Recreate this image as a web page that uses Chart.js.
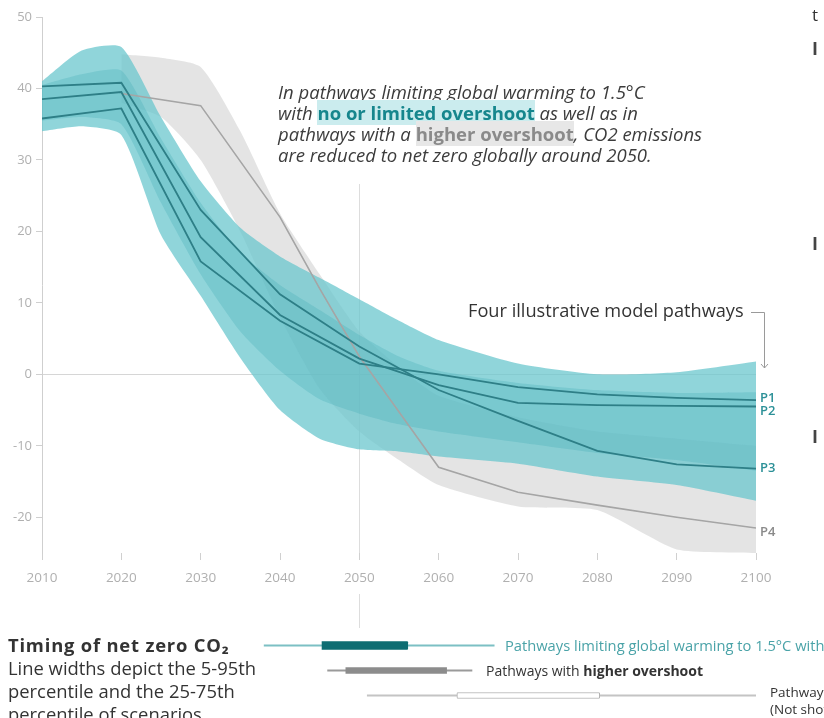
<!DOCTYPE html>
<html>
<head>
<meta charset="utf-8">
<script src="https://cdn.jsdelivr.net/npm/chart.js@4.4.0/dist/chart.umd.min.js"></script>
<style>
  html, body { margin: 0; padding: 0; background: #fff; }
  body { width: 824px; height: 718px; position: relative; overflow: hidden; font-family: 'Open Sans', sans-serif; color: #333; }
  canvas { position: absolute; left: 0; }
  #main { top: 0; }
  #timing { top: 633px; }
  .txt { position: absolute; white-space: nowrap; }
  #note { left: 278px; top: 81px; font-style: italic; font-size: 18.5px; line-height: 21px; color: #3c3c3c; }
  .hl-teal { font-style: normal; font-weight: 700; color: #16868d; background: #cbecee; }
  .hl-gray { font-style: normal; font-weight: 700; color: #8a8a8a; background: #e7e7e7; }
  #four { left: 468px; top: 299px; font-size: 18.2px; line-height: 22px; color: #333; }
  #timingNote { left: 8px; top: 633px; font-size: 18.4px; line-height: 23px; color: #333; }
  #timingNote b { letter-spacing: 0.8px; }
</style>
</head>
<body>
<canvas id="main" width="824" height="632"></canvas>
<canvas id="timing" width="824" height="75"></canvas>

<div class="txt" id="note">
  In pathways limiting global warming to 1.5°C<br>
  with <span class="hl-teal">no or limited overshoot</span> as well as in<br>
  pathways with a <span class="hl-gray">higher overshoot</span>, CO2 emissions<br>
  are reduced to net zero globally around 2050.
</div>
<div class="txt" id="four">Four illustrative model pathways</div>
<div class="txt" id="timingNote">
  <b>Timing of net zero CO₂</b><br>
  Line widths depict the 5-95th<br>
  percentile and the 25-75th<br>
  percentile of scenarios
</div>
<div class="txt" style="left:505px; top:635px; font-size:14.7px; line-height:20px; color:#4aa3a8;">Pathways limiting global warming to 1.5°C with no or limited overshoot</div>
<div class="txt" style="left:486px; top:661px; font-size:14px; line-height:20px;">Pathways with <b>higher overshoot</b></div>
<div class="txt" style="left:770px; top:684px; font-size:13.5px; line-height:17px;">Pathways limiting global warming below 2°C<br>(Not shown above)</div>
<div class="txt" style="left:812px; top:3px; font-size:17px;">t</div>
<div class="txt" style="left:812px; top:36px; font-size:18px; font-weight:700; color:#444;">I</div>
<div class="txt" style="left:812px; top:231px; font-size:18px; font-weight:700; color:#444;">I</div>
<div class="txt" style="left:812px; top:424px; font-size:18px; font-weight:700; color:#444;">I</div>

<script>
// global net CO2 emissions, GtCO2/yr
const pathYears = [2010, 2020, 2030, 2040, 2050, 2060, 2070, 2080, 2090, 2100];
const p1 = [35.8, 37.2, 15.8, 7.5, 1.5, 0, -1.8, -2.8, -3.3, -3.6];
const p2 = [38.5, 39.5, 19.2, 8.3, 2.2, -1.5, -4.0, -4.3, -4.4, -4.5];
const p3 = [40.3, 40.8, 23.0, 11.2, 3.9, -2.2, -6.5, -10.7, -12.6, -13.2];

const p4Years = [2020, 2030, 2040, 2045, 2050, 2060, 2070, 2080, 2090, 2100];
const p4 = [39.3, 37.6, 22.0, 12.0, 2.5, -13.0, -16.5, -18.3, -20.0, -21.5];

// range of scenarios, no or limited overshoot
const bandYears = [2010, 2015, 2020, 2025, 2030, 2035, 2040, 2045, 2050, 2055, 2060, 2070, 2080, 2090, 2100];
const tealHigh = [41, 45.3, 45.8, 36, 27, 20.5, 16.5, 13.5, 10.5, 7.5, 4.8, 1.5, 0, 0.3, 1.8];
const tealLow = [34, 34.7, 33.5, 19.5, 11, 2.3, -5, -9, -10.5, -10.8, -11.5, -12.5, -14.3, -15.5, -17.7];
const coreHigh = [40.5, 42, 42.5, 33, 24, 17, 12.5, 9, 5.5, 2.5, 0.5, -1.2, -2.2, -2.6, -2.5];
const coreLow = [35.5, 36, 35, 24, 14, 6, 0.5, -3.5, -5.5, -7, -8, -9.5, -11, -12, -13.5];

// range of scenarios, higher overshoot
const greyYears = [2020, 2025, 2030, 2035, 2040, 2045, 2050, 2055, 2060, 2070, 2080, 2090, 2100];
const greyHigh = [44.8, 44.3, 43, 34, 22.5, 14, 6, 1, -3, -6, -8, -9, -10];
const greyLow = [38, 36, 30, 20, 8, -2, -8, -12, -15.5, -18.5, -19, -24.5, -25];

const xTicks = [2010, 2020, 2030, 2040, 2050, 2060, 2070, 2080, 2090, 2100];
const yTicks = [-20, -10, 0, 10, 20, 30, 40, 50];
const pathwayLabels = ['P1', 'P2', 'P3', 'P4'];
const netZeroYear = 2050;

// timing of net zero: 5-95th and 25-75th percentile
const timingRows = ['limited overshoot', 'higher overshoot', 'below 2°C'];
const timingOuter = [[2038, 2067], [2046, 2064.2], [2051, 2100]];
const timingInner = [[2045.3, 2056.1], [2048.3, 2061], [2062.3, 2080.3]];

Chart.defaults.font.family = "'Open Sans', sans-serif";

const TEAL_LINE = '#2e7f87';
const toPoints = (xs, ys) => xs.map((x, i) => ({ x: x, y: ys[i] }));

function pathLine(label, xs, ys, color, width, order) {
  return {
    label: label, data: toPoints(xs, ys), borderColor: color, borderWidth: width,
    pointRadius: 0, tension: 0, fill: false, order: order
  };
}
function bandEdge(label, xs, ys, fillColor, order) {
  return {
    label: label, data: toPoints(xs, ys), borderWidth: 0, borderColor: 'rgba(0,0,0,0)',
    pointRadius: 0, tension: 0.2, order: order,
    fill: fillColor ? { target: '+1' } : false,
    backgroundColor: fillColor || 'rgba(0,0,0,0)'
  };
}

const decor = {
  id: 'decor',
  beforeDatasetsDraw(chart) {
    const ctx = chart.ctx, x = Math.round(chart.scales.x.getPixelForValue(netZeroYear)) + 0.5;
    ctx.save();
    ctx.strokeStyle = '#dddddd';
    ctx.lineWidth = 1;
    ctx.beginPath();
    ctx.moveTo(x, 184);
    ctx.lineTo(x, chart.chartArea.bottom);
    ctx.moveTo(x, 594);
    ctx.lineTo(x, 628);
    ctx.stroke();
    ctx.restore();
  },
  afterDatasetsDraw(chart) {
    const ctx = chart.ctx;
    const xs = chart.scales.x, ys = chart.scales.y;
    const ends = [p1, p2, p3, p4].map(a => a[a.length - 1]);
    const nudge = [-2, 5, 0, 4];
    ctx.save();
    ctx.font = "600 13px 'Open Sans', sans-serif";
    ctx.textBaseline = 'middle';
    pathwayLabels.forEach((lab, i) => {
      ctx.fillStyle = i < 3 ? '#2b9097' : '#8a8a8a';
      ctx.fillText(lab, xs.right + 4, ys.getPixelForValue(ends[i]) + nudge[i]);
    });
    // connector from "Four illustrative model pathways"
    ctx.strokeStyle = '#9a9a9a';
    ctx.lineWidth = 1;
    ctx.beginPath();
    ctx.moveTo(751, 312.5);
    ctx.lineTo(764.5, 312.5);
    ctx.lineTo(764.5, 368);
    ctx.moveTo(761, 364);
    ctx.lineTo(764.5, 368);
    ctx.lineTo(768, 364);
    ctx.stroke();
    ctx.restore();
  }
};

new Chart(document.getElementById('main'), {
  type: 'line',
  data: {
    datasets: [
      pathLine('P1', pathYears, p1, TEAL_LINE, 1.8, 0),
      pathLine('P2', pathYears, p2, TEAL_LINE, 1.8, 0),
      pathLine('P3', pathYears, p3, TEAL_LINE, 1.8, 0),
      pathLine('P4', p4Years, p4, '#a5a5a5', 1.6, 1),
      bandEdge('core high', bandYears, coreHigh, 'rgba(60, 170, 180, 0.28)', 2),
      bandEdge('core low', bandYears, coreLow, null, 2),
      bandEdge('teal high', bandYears, tealHigh, 'rgba(105, 198, 205, 0.74)', 3),
      bandEdge('teal low', bandYears, tealLow, null, 3),
      bandEdge('grey high', greyYears, greyHigh, 'rgba(205, 205, 205, 0.55)', 4),
      bandEdge('grey low', greyYears, greyLow, null, 4)
    ]
  },
  options: {
    responsive: false,
    animation: false,
    devicePixelRatio: 1,
    layout: { padding: { top: 17, left: 0, right: 68, bottom: 39 } },
    plugins: { legend: { display: false }, tooltip: { enabled: false } },
    scales: {
      x: {
        type: 'linear', min: 2010, max: 2100,
        afterBuildTicks: s => { s.ticks = xTicks.map(v => ({ value: v })); },
        afterFit: s => { s.height = 40; },
        grid: { drawOnChartArea: false, tickColor: '#d0d0d0', tickLength: 7 },
        border: { display: false },
        ticks: { color: '#b0b0b0', font: { size: 13.5 }, padding: 10, maxRotation: 0, autoSkip: false, callback: v => String(v) }
      },
      y: {
        min: -25, max: 50,
        afterBuildTicks: s => { s.ticks = yTicks.map(v => ({ value: v })); },
        afterFit: s => { s.width = 42; },
        grid: {
          color: c => (c.tick && c.tick.value === 0) ? '#d6d6d6' : 'rgba(0,0,0,0)',
          tickColor: '#cfcfcf', tickLength: 6
        },
        border: { display: true, color: '#cfcfcf' },
        ticks: { color: '#b0b0b0', font: { size: 13 }, padding: 4 }
      }
    }
  },
  plugins: [decor]
});

// timing bars below the chart, same year scale
new Chart(document.getElementById('timing'), {
  type: 'bar',
  data: {
    labels: timingRows,
    datasets: [
      {
        data: [timingInner[0], null, null], backgroundColor: '#0e6d72', borderWidth: 0,
        barThickness: 8, grouped: false, borderRadius: 1, order: 0
      },
      {
        data: [null, timingInner[1], null], backgroundColor: '#8c8c8c', borderWidth: 0,
        barThickness: 6, grouped: false, order: 0
      },
      {
        data: [null, null, timingInner[2]], backgroundColor: '#ffffff', borderColor: '#b0b0b0',
        borderWidth: 1, borderSkipped: false, barThickness: 6, grouped: false, borderRadius: 1, order: 0
      },
      {
        data: timingOuter, backgroundColor: ['#7cc0c4', '#9a9a9a', '#c4c4c4'], borderWidth: 0,
        barThickness: 1.5, grouped: false, order: 1
      }
    ]
  },
  options: {
    indexAxis: 'y',
    responsive: false,
    animation: false,
    devicePixelRatio: 1,
    layout: { padding: { top: 0, left: 42, right: 68, bottom: 0 } },
    plugins: { legend: { display: false }, tooltip: { enabled: false } },
    scales: {
      x: { type: 'linear', min: 2010, max: 2100, display: false },
      y: { display: false }
    }
  }
});
</script>
</body>
</html>
